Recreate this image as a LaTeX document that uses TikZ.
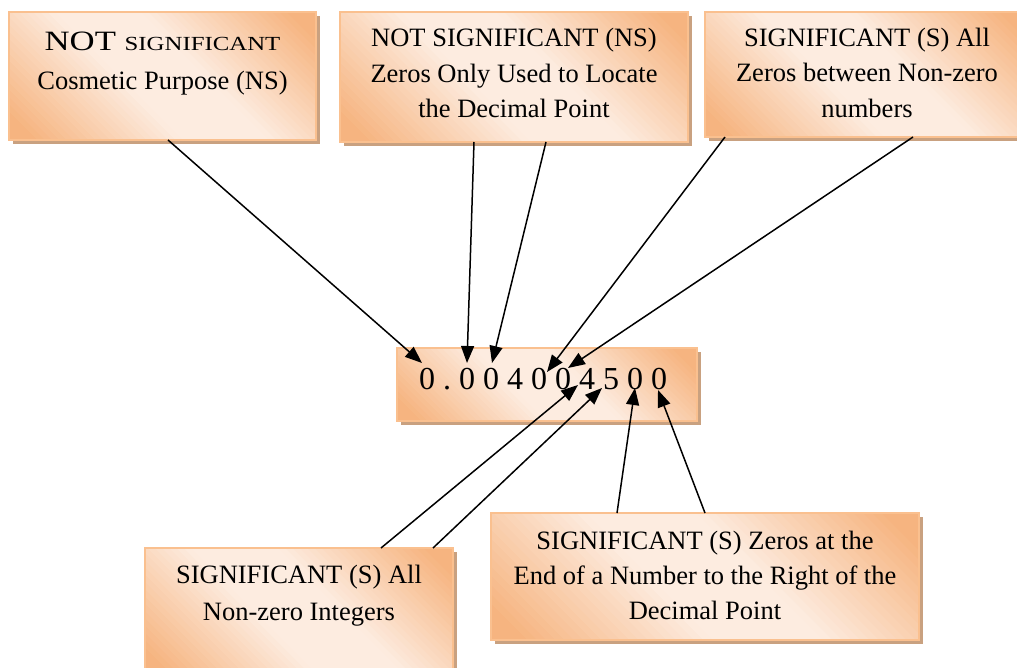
\documentclass[tikz,border=0pt]{standalone}
\usepackage{fontspec}
\setmainfont{Liberation Serif}
\usetikzlibrary{arrows.meta,shadows}
\definecolor{odark}{RGB}{246,180,128}
\definecolor{olight}{RGB}{253,236,224}
\definecolor{oborder}{RGB}{250,192,143}
\definecolor{oshadow}{RGB}{201,161,128}
\tikzset{
  boxbase/.style={fill=olight, inner sep=0pt, outer sep=0pt,
    drop shadow={shadow xshift=3.5pt, shadow yshift=-4pt, fill=oshadow, opacity=1}},
  boxborder/.style={draw=oborder, line width=1.2pt},
  txt/.style={inner sep=0pt, align=center, font=\fontsize{26.5}{35.5}\selectfont},
  conn/.style={line width=1.5pt, -{Triangle[length=17pt,width=13pt]}}
}
% box with diagonal orange gradient: name, cx, cy, width, height
\newcommand\shbox[5]{%
  \node[boxbase, minimum width=#4pt, minimum height=#5pt] (#1) at (#2,#3) {};
  \begin{scope}
    \clip (#1.south west) rectangle (#1.north east);
    \pgfmathsetmacro\bK{(#4+#5)/2}
    \pgfmathsetmacro\bL{#4+#5}
    \foreach \i in {0,...,59} {
      \pgfmathsetmacro\bfa{\i/30-1}
      \pgfmathsetmacro\bfb{(\i+1)/30-1}
      \pgfmathsetmacro\bka{\bfa*\bK-0.4}
      \pgfmathsetmacro\bkb{\bfb*\bK+0.4}
      \pgfmathsetmacro\bu{abs((\i+0.5)/30-1)}
      \pgfmathsetmacro\bp{100*min(1,max(0,(\bu-0.2)/0.68))}
      \fill[odark!\bp!olight] ({#2+\bka/2-\bL},{#3-\bka/2-\bL}) -- ({#2+\bka/2+\bL},{#3-\bka/2+\bL})
        -- ({#2+\bkb/2+\bL},{#3-\bkb/2+\bL}) -- ({#2+\bkb/2-\bL},{#3-\bkb/2-\bL}) -- cycle;
    }
  \end{scope}
  \draw[boxborder] (#1.south west) rectangle (#1.north east);
}
\begin{document}
\begin{tikzpicture}[x=1pt,y=-1pt]
\clip (0,0) rectangle (1017,668);
% boxes
\shbox{b1}{162.5}{76}{307}{128}
\shbox{b2}{514}{77}{348}{130}
\shbox{b3}{867}{74.5}{324}{125}
\shbox{bc}{547}{384.5}{300}{73}
\shbox{b5}{299}{612}{308}{128}
\shbox{b6}{705}{576.5}{428}{127}
% texts
\node[txt, font=\fontsize{26.5}{39}\selectfont] (t1) at (162.5,64)
  {\scalebox{1.24}[1]{\fontsize{28}{30}\selectfont NOT \fontsize{20}{22}\selectfont SIGNIFICANT}\\Cosmetic Purpose (NS)};
\node[txt] (t2) at (514,73) {NOT SIGNIFICANT (NS)\\Zeros Only Used to Locate\\the Decimal Point};
\node[txt] (t3) at (867,72.5) {SIGNIFICANT (S) All\\Zeros between Non-zero\\numbers};
\node[inner sep=0pt, font=\fontsize{32}{36}\selectfont] (tc) at (543,379)
  {0\kern8pt.\kern8pt0\kern8pt0\kern8pt4\kern8pt0\kern8pt0\kern8pt4\kern8pt5\kern8pt0\kern8pt0};
\node[txt, font=\fontsize{26.5}{37}\selectfont] (t5) at (299,595.5) {SIGNIFICANT (S) All\\Non-zero Integers};
\node[txt, font=\fontsize{26.5}{35}\selectfont] (t6) at (705,575) {SIGNIFICANT (S) Zeros at the\\End of a Number to the Right of the\\Decimal Point};
% connector end points
\coordinate (s1) at (168,140);  \coordinate (e1) at (422,363);
\coordinate (s2) at (474,142);  \coordinate (e2) at (467,363);
\coordinate (s3) at (546,142);  \coordinate (e3) at (492,363);
\coordinate (s4) at (725,137);  \coordinate (e4) at (547,372);
\coordinate (s5) at (913,137);  \coordinate (e5) at (568,368);
\coordinate (s6) at (381,548);  \coordinate (e6) at (578,385);
\coordinate (s7) at (433,548);  \coordinate (e7) at (602,388);
\coordinate (s8) at (617,513);  \coordinate (e8) at (635,388);
\coordinate (s9) at (705,513);  \coordinate (e9) at (658,390);
\foreach \i in {1,...,9} \draw[conn] (s\i) -- (e\i);
\end{tikzpicture}
\end{document}
